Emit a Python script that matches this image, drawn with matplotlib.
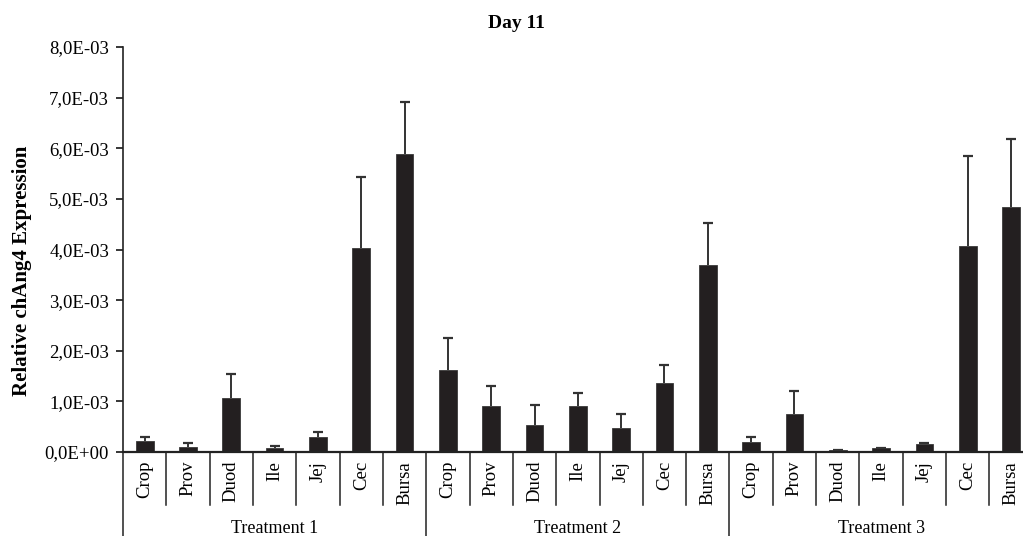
import matplotlib
matplotlib.use("Agg")
import matplotlib.pyplot as plt
from matplotlib.ticker import FuncFormatter, MultipleLocator
import numpy as np

plt.rcParams['font.family'] = ['Liberation Serif', 'DejaVu Serif']

organs = ['Crop', 'Prov', 'Duod', 'Ile', 'Jej', 'Cec', 'Bursa']
treatments = ['Treatment 1', 'Treatment 2', 'Treatment 3']

# mean relative expression and SD (x 1e-3)
t1_mean = [0.22, 0.10, 1.07, 0.07, 0.30, 4.03, 5.89]
t1_sd = [0.08, 0.08, 0.47, 0.05, 0.095, 1.41, 1.03]
t2_mean = [1.61, 0.90, 0.54, 0.90, 0.48, 1.37, 3.70]
t2_sd = [0.64, 0.40, 0.38, 0.26, 0.265, 0.35, 0.82]
t3_mean = [0.19, 0.75, 0.03, 0.07, 0.16, 4.06, 4.83]
t3_sd = [0.11, 0.46, 0.015, 0.0, 0.025, 1.79, 1.35]

means = np.array(t1_mean + t2_mean + t3_mean) * 1e-3
sds = np.array(t1_sd + t2_sd + t3_sd) * 1e-3
x = np.arange(len(means))

W, H = 1023, 536
fig = plt.figure(figsize=(W / 100, H / 100), dpi=100)
# plot area runs a little past the right edge of the figure
ax = fig.add_axes([123 / W, 84 / H, (1032.7 - 123) / W, (452 - 47) / H])

bar_col = '#231f20'
ax.bar(x, means, width=0.41, color=bar_col, edgecolor='#3a3a3a', linewidth=0.6, zorder=2)
eb = ax.errorbar(x, means, yerr=[np.zeros_like(sds), sds], fmt='none', ecolor='#333333',
                 elinewidth=1.4, capsize=3.5, capthick=1.6, zorder=3)
# only the upper cap is shown
eb[1][0].set_visible(False)

ax.set_xlim(-0.5, len(means) - 0.5)
ax.set_ylim(0, 8e-3)
ax.yaxis.set_major_locator(MultipleLocator(1e-3))
ax.yaxis.set_major_formatter(FuncFormatter(lambda v, p: f"{v:.1E}".replace('.', ',')))
ax.tick_params(axis='y', direction='out', length=5, width=1.1, labelsize=13.5, pad=5)
ax.set_xticks([])
for s in ['top', 'right']:
    ax.spines[s].set_visible(False)
ax.spines['left'].set_linewidth(1.2)
ax.spines['bottom'].set_linewidth(1.6)
ax.spines['left'].set_color('#222222')
ax.spines['bottom'].set_color('#222222')

# category axis: organ labels, short separators, long group separators
trans = ax.get_xaxis_transform()
for i in range(len(means)):
    ax.text(x[i], -0.022, organs[i % len(organs)], rotation=90, ha='center', va='top',
            fontsize=13.5, transform=trans, clip_on=False)
for b in np.arange(-0.5, len(means), 1.0):
    if (b + 0.5) % len(organs) == 0:
        ax.plot([b, b], [0, -0.22], transform=trans, color='#222222', lw=1.1, clip_on=False)
    else:
        ax.plot([b, b], [0, -0.13], transform=trans, color='#222222', lw=1.1, clip_on=False)
for g, name in enumerate(treatments):
    ax.text(g * len(organs) + (len(organs) - 1) / 2, -0.19, name, ha='center', va='center',
            fontsize=13, transform=trans, clip_on=False)

fig.text(516 / W, 1 - 28 / H, 'Day 11', ha='center', va='baseline', fontsize=14, fontweight='bold')
fig.text(22 / W, 1 - 271 / H, 'Relative chAng4 Expression', rotation=90, ha='center',
         va='center', fontsize=15, fontweight='bold')

fig.savefig('out.png', dpi=100, facecolor='white')
